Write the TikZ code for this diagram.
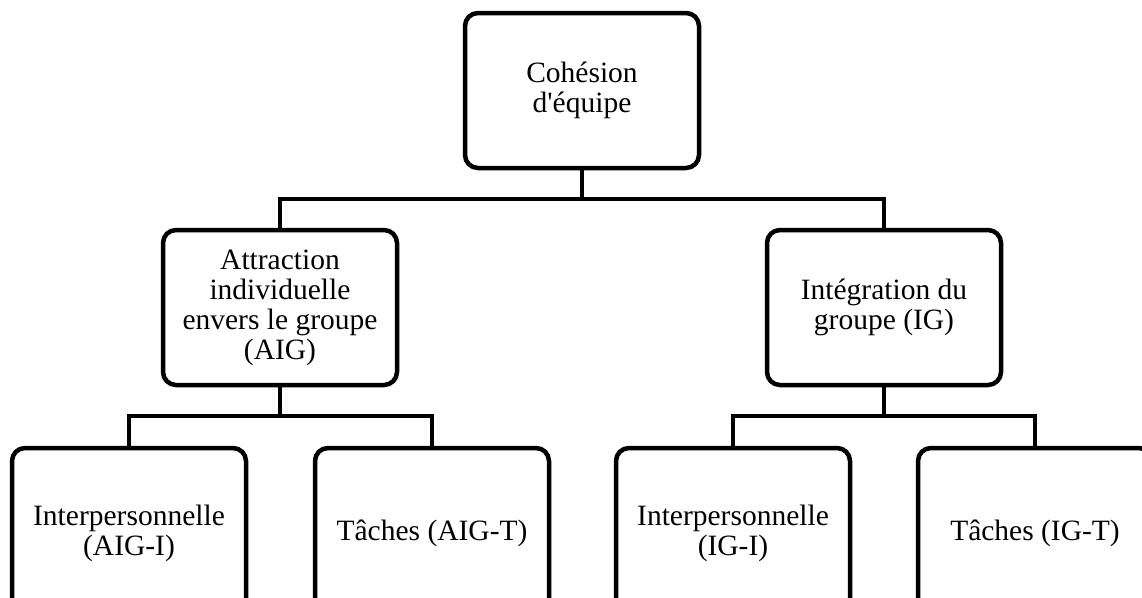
\documentclass[tikz,border=0pt]{standalone}
\usepackage{fontspec}
\setmainfont{Liberation Serif}
\begin{document}
\begin{tikzpicture}[x=1pt,y=-1pt,
  box/.style={draw=black, line width=4.5pt, rounded corners=13pt, fill=white,
    minimum width=234pt, inner sep=0pt, align=center,
    font=\fontsize{29.5}{30}\selectfont},
  midbox/.style={box, minimum height=155pt},
  lowbox/.style={box, minimum height=170pt},
  link/.style={line width=4.5pt, line join=miter}]
\clip (0,0) rectangle (1142,597);
\fill[white] (0,0) rectangle (1142,597);
% nodes
\node[midbox] (top) at (582,90.5) {Cohésion\\d\textquotesingle équipe};
\node[midbox] (aig) at (280,307.5) {Attraction\\individuelle\\envers le groupe\\(AIG)};
\node[midbox] (ig) at (884,307.5) {Intégration du\\groupe (IG)};
\node[lowbox] (aigi) at (129,533) {Interpersonnelle\\(AIG-I)};
\node[lowbox] (aigt) at (432,533) {Tâches (AIG-T)};
\node[lowbox] (igi) at (733,533) {Interpersonnelle\\(IG-I)};
\node[lowbox] (igt) at (1035,533) {Tâches (IG-T)};
% junctions
\coordinate (j0) at (582,199);
\coordinate (j1) at (280,416);
\coordinate (j2) at (884,416);
% connectors
\draw[link] (top.south) -- (j0);
\draw[link] (aig.north) -- (aig.north |- j0) -- (ig.north |- j0) -- (ig.north);
\draw[link] (aig.south) -- (j1);
\draw[link] (aigi.north) -- (aigi.north |- j1) -- (aigt.north |- j1) -- (aigt.north);
\draw[link] (ig.south) -- (j2);
\draw[link] (igi.north) -- (igi.north |- j2) -- (igt.north |- j2) -- (igt.north);
\end{tikzpicture}
\end{document}
